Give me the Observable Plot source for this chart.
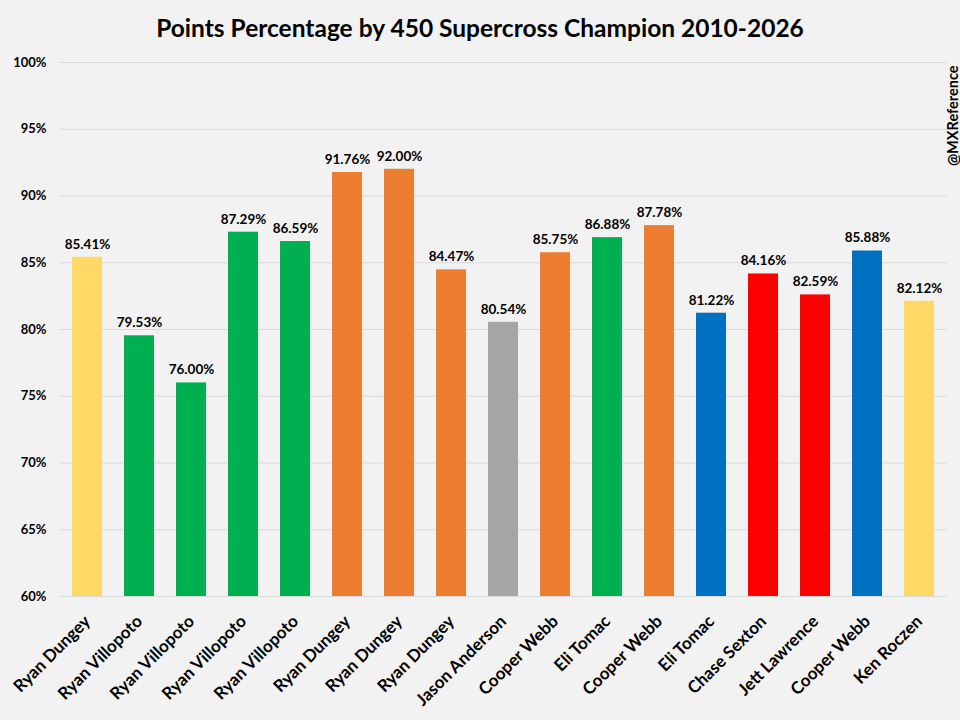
<!DOCTYPE html>
<html>
<head>
<meta charset="utf-8">
<script src="https://cdn.jsdelivr.net/npm/d3@7"></script>
<script src="https://cdn.jsdelivr.net/npm/@observablehq/plot@0.6"></script>
<style>
  html, body { margin: 0; padding: 0; background: #F2F2F2; }
  body { width: 960px; height: 720px; overflow: hidden; font-family: Lato, "Open Sans", sans-serif; }
  #title { height: 50px; line-height: 56px; text-align: center; font-weight: 700; font-size: 24.5px; color: #000; }
  #chart svg { display: block; }
</style>
</head>
<body>
<div id="title">Points Percentage by 450 Supercross Champion 2010-2026</div>
<div id="chart"></div>
<script>
const riders = ["Ryan Dungey","Ryan Villopoto","Ryan Villopoto","Ryan Villopoto","Ryan Villopoto","Ryan Dungey","Ryan Dungey","Ryan Dungey","Jason Anderson","Cooper Webb","Eli Tomac","Cooper Webb","Eli Tomac","Chase Sexton","Jett Lawrence","Cooper Webb","Ken Roczen"];
const percentages = [85.41, 79.53, 76.00, 87.29, 86.59, 91.76, 92.00, 84.47, 80.54, 85.75, 86.88, 87.78, 81.22, 84.16, 82.59, 85.88, 82.12];
const bikeBrands = ["Suzuki","Kawasaki","Kawasaki","Kawasaki","Kawasaki","KTM","KTM","KTM","Husqvarna","KTM","Kawasaki","KTM","Yamaha","Honda","Honda","Yamaha","Suzuki"];
const yTicks = [60, 65, 70, 75, 80, 85, 90, 95, 100];
const brandNames = ["Suzuki","Kawasaki","KTM","Husqvarna","Yamaha","Honda"];
const brandColors = ["#FFD966","#00B050","#ED7D31","#A5A5A5","#0070C0","#FF0000"];

const data = riders.map((r, i) => ({i, rider: r, value: percentages[i], brand: bikeBrands[i]}));

const chart = Plot.plot({
  width: 960,
  height: 670,
  marginTop: 12,
  marginBottom: 124,
  marginLeft: 60,
  marginRight: 13,
  style: {background: "#F2F2F2", fontFamily: "Lato, 'Open Sans', sans-serif", color: "#000"},
  x: {domain: d3.range(riders.length), paddingInner: 0.42, paddingOuter: 0.22, label: null},
  y: {domain: [60, 100], label: null},
  color: {domain: brandNames, range: brandColors},
  marks: [
    Plot.gridY(yTicks, {stroke: "#D9D9D9", strokeOpacity: 1, strokeWidth: 1}),
    Plot.axisY(yTicks, {tickSize: 0, tickPadding: 14, tickFormat: d => d + "%", fontSize: 13, fontWeight: 700, label: null}),
    Plot.axisX({tickSize: 0, tickPadding: 22, tickRotate: -45, tickFormat: i => riders[i], fontSize: 17, fontWeight: 700, label: null}),
    Plot.barY(data, {x: "i", y1: 60, y2: "value", fill: "brand"}),
    Plot.text(data, {x: "i", y: "value", text: d => d.value.toFixed(2) + "%", dy: -13, fontSize: 13.5, fontWeight: 700, fill: "#000"}),
    Plot.text(["@MXReference"], {frameAnchor: "top-right", text: d => d, rotate: -90, textAnchor: "end", dx: 0, dy: 3, fontSize: 14.5, fontWeight: 700, fill: "#000"})
  ]
});
document.getElementById("chart").appendChild(chart);
</script>
</body>
</html>
